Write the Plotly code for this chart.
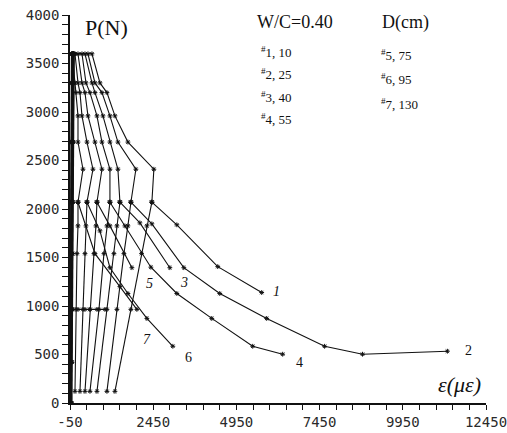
import plotly.graph_objects as go

# ---------------- data ----------------
curve_names = ["1", "2", "3", "4", "5", "6", "7"]

# initial loading branch hugging the load axis
band_loads = [0, 420, 965, 1540, 2070, 2690, 3300, 3600]
band_strain = [
    [-30, -20, -10, 0, 10, 20, 30, 40],
    [-40, -30, -20, -10, 0, 10, 20, 30],
    [-20, -10, 0, 10, 20, 30, 40, 50],
    [-45, -40, -30, -20, -10, 0, 10, 20],
    [-10, 0, 10, 20, 30, 40, 50, 60],
    [-50, -45, -40, -35, -30, -20, -10, 0],
    [0, 10, 20, 30, 40, 50, 60, 70],
]

# unloading fan from the 3600 N plateau down to the peak level
fan_loads = [3600, 3300, 3200, 2960, 2690, 2410, 2070]
fan_strain = [
    [610, 850, 1060, 1300, 1690, 2470, 2410],
    [490, 700, 910, 1150, 1390, 1930, 1780],
    [400, 610, 700, 940, 1150, 1390, 1450],
    [310, 430, 550, 760, 910, 1150, 1150],
    [190, 310, 400, 490, 700, 910, 760],
    [100, 190, 250, 310, 460, 640, 460],
    [10, 100, 130, 190, 190, 340, 190],
]

# reloading branch from 120 N up to the peak
rise_loads = [120, 965, 1540, 1826, 2070]
rise_strain = [
    [1300, 1780, 2100, 2260, 2410],
    [1060, 1360, 1570, 1690, 1780],
    [760, 1060, 1270, 1360, 1450],
    [550, 820, 970, 1060, 1150],
    [400, 550, 670, 730, 760],
    [250, 340, 400, 430, 460],
    [100, 130, 160, 190, 190],
]

# softening tail after the peak
tail_strain = [
    [2410, 3160, 4390, 5710],
    [1780, 2410, 3370, 4450, 5860, 7600, 8740, 11290],
    [1450, 2050, 2950],
    [1150, 1600, 2380, 3160, 4210, 5440, 6340],
    [760, 1150, 1810],
    [460, 850, 1150, 1690, 2260, 3040],
    [190, 700, 1450, 1960],
]
tail_load = [
    [2070, 1837, 1406, 1139],
    [2070, 1847, 1395, 1129, 872, 585, 503, 534],
    [2070, 1857, 1395],
    [2070, 1826, 1400, 1129, 872, 585, 503],
    [2070, 1826, 1395],
    [2070, 1775, 1395, 1129, 872, 585],
    [2070, 1540, 1200, 965],
]

# horizontal reading line at ~965 N near the axis
flat_strain = [0, 190, 400, 550, 760, 1000]
flat_load = [965, 965, 965, 965, 965, 965]

x_major = [-50, 2450, 4950, 7450, 9950, 12450]
y_major = [0, 500, 1000, 1500, 2000, 2500, 3000, 3500, 4000]

legend_left = ["#1, 10", "#2, 25", "#3, 40", "#4, 55"]
legend_right = ["#5, 75", "#6, 95", "#7, 130"]

# ---------------- figure ----------------
INK = "#111111"
LINE = dict(color=INK, width=1.1)
BAND = dict(color=INK, width=1.6)
MARK = dict(symbol="asterisk", size=4, color=INK, line=dict(color=INK, width=1))

fig = go.Figure()
for i in range(len(curve_names)):
    fig.add_trace(go.Scatter(x=band_strain[i], y=band_loads, mode="lines+markers", line=BAND,
                             marker=MARK, showlegend=False, hoverinfo="skip"))
    fig.add_trace(go.Scatter(x=[band_strain[i][-1]] + fan_strain[i], y=[band_loads[-1]] + fan_loads,
                             mode="lines+markers", line=LINE, marker=MARK,
                             showlegend=False, hoverinfo="skip"))
    fig.add_trace(go.Scatter(x=rise_strain[i], y=rise_loads, mode="lines+markers", line=LINE,
                             marker=MARK, showlegend=False, hoverinfo="skip"))
    fig.add_trace(go.Scatter(x=tail_strain[i], y=tail_load[i], mode="lines+markers", line=LINE,
                             marker=MARK, showlegend=False, hoverinfo="skip"))
fig.add_trace(go.Scatter(x=flat_strain, y=flat_load, mode="lines+markers", line=LINE,
                         marker=MARK, showlegend=False, hoverinfo="skip"))

# tick values every 500 (x) / 100 (y), labels only on majors
x_tickvals = list(range(-50, 12451, 500))
x_ticktext = [str(v) if v in x_major else "" for v in x_tickvals]
y_tickvals = list(range(0, 4001, 100))
y_ticktext = [str(v) if v in y_major else "" for v in y_tickvals]

tick_font = dict(family="DejaVu Sans Mono", size=14, color="#2a2a2a")
fig.update_xaxes(range=[-50, 12450], tickmode="array", tickvals=x_tickvals, ticktext=x_ticktext,
                 ticks="outside", ticklen=5, tickwidth=1, tickcolor=INK,
                 showline=True, linecolor=INK, linewidth=1.5, showgrid=False,
                 zeroline=False, tickfont=tick_font, automargin=False,
                 ticklabeloverflow="allow")
fig.update_yaxes(range=[0, 4000], tickmode="array", tickvals=y_tickvals, ticktext=y_ticktext,
                 ticks="outside", ticklen=6, tickwidth=1, tickcolor=INK,
                 showline=True, linecolor=INK, linewidth=1.5, showgrid=False,
                 zeroline=False, tickfont=tick_font, automargin=False,
                 ticklabeloverflow="allow")

# plot area in page pixels (page body margin removed below)
W, H = 507, 433
L, R, T, B = 70, 486, 15, 403


def px(xp, yp):
    return (xp - L) / (R - L), (B - yp) / (B - T)


serif = "Liberation Serif"
ann = []


def add_text(text, xp, yp, size, italic=False, anchor="left"):
    x, y = px(xp, yp)
    t = f"<i>{text}</i>" if italic else text
    ann.append(dict(text=t, x=x, y=y, xref="paper", yref="paper", showarrow=False,
                    xanchor=anchor, yanchor="middle",
                    font=dict(family=serif, size=size, color=INK)))


add_text("P(N)", 83, 27, 22)
add_text("W/C=0.40", 255, 22, 18)
add_text("D(cm)", 380, 22, 18)
for k, t in enumerate(legend_left):
    a, b = t.split(",")
    add_text(f"<sup>{a[0]}</sup>{a[1:]},{b}", 259, [52, 74, 97, 119][k], 13)
for k, t in enumerate(legend_right):
    a, b = t.split(",")
    add_text(f"<sup>{a[0]}</sup>{a[1:]},{b}", 379, [55, 79, 104][k], 13)

label_pos = [(271, 291), (463, 350), (178, 282), (294, 362), (144, 283), (183, 357), (141, 339)]
for name, (xp, yp) in zip(curve_names, label_pos):
    add_text(name, xp, yp, 14, italic=name in ("1", "3", "5", "7"))
add_text("ε(με)", 436, 384, 22, italic=True)

fig.update_layout(width=W, height=H, margin=dict(l=L, r=W - R, t=T, b=H - B),
                  paper_bgcolor="white", plot_bgcolor="white", annotations=ann)

fig.write_html("out.html", config={"displayModeBar": False},
               post_script="document.body.style.margin='0';document.body.style.overflow='hidden';")
